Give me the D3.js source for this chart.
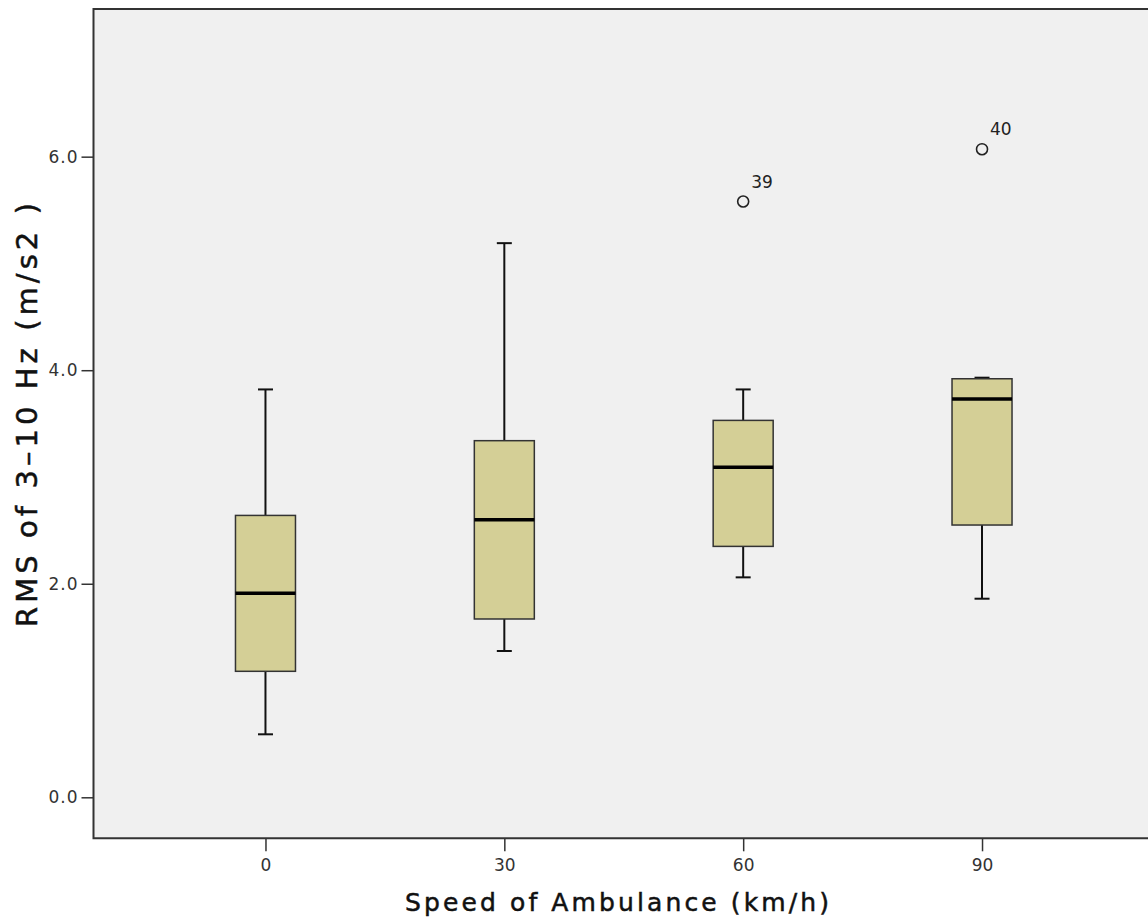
<!DOCTYPE html>
<html><head><meta charset="utf-8">
<script src="https://cdn.jsdelivr.net/npm/d3@7"></script>
<style>body{margin:0;background:#fff;}svg{display:block;}</style>
</head><body>
<svg id="c" width="1148" height="923"></svg>
<script>
const categories = ["0","30","60","90"];
const whiskerLow = [0.59, 1.37, 2.06, 1.86];
const q1 = [1.18, 1.67, 2.35, 2.55];
const median = [1.91, 2.60, 3.09, 3.73];
const q3 = [2.64, 3.34, 3.53, 3.92];
const whiskerHigh = [3.82, 5.19, 3.82, 3.93];
const outlierCat = ["60","90"];
const outlierVal = [5.58, 6.07];
const outlierLabel = ["39","40"];
const yTicks = [0, 2, 4, 6];

const svg = d3.select("#c");
const L = 93.5, T = 9, B = 838.3, R = 1154;
const x = d3.scalePoint().domain(categories).range([L, R]).padding(0.72);
const y = d3.scaleLinear().domain([-0.384, 7.383]).range([B, T]);

svg.append("rect").attr("x", L).attr("y", T).attr("width", R - L).attr("height", B - T).attr("fill", "#f0f0f0");

const boxW = 60, capW = 15;
const g = svg.append("g");
categories.forEach((c, i) => {
  const cx = x(c);
  g.append("line").attr("x1", cx).attr("x2", cx).attr("y1", y(whiskerHigh[i])).attr("y2", y(q3[i])).attr("stroke", "#111").attr("stroke-width", 2);
  g.append("line").attr("x1", cx).attr("x2", cx).attr("y1", y(q1[i])).attr("y2", y(whiskerLow[i])).attr("stroke", "#111").attr("stroke-width", 2);
  g.append("line").attr("x1", cx - capW/2).attr("x2", cx + capW/2).attr("y1", y(whiskerHigh[i])).attr("y2", y(whiskerHigh[i])).attr("stroke", "#111").attr("stroke-width", 2);
  g.append("line").attr("x1", cx - capW/2).attr("x2", cx + capW/2).attr("y1", y(whiskerLow[i])).attr("y2", y(whiskerLow[i])).attr("stroke", "#111").attr("stroke-width", 2);
  g.append("rect").attr("x", cx - boxW/2).attr("y", y(q3[i])).attr("width", boxW).attr("height", y(q1[i]) - y(q3[i]))
    .attr("fill", "#d4cf96").attr("stroke", "#333").attr("stroke-width", 1.5);
  g.append("line").attr("x1", cx - boxW/2).attr("x2", cx + boxW/2).attr("y1", y(median[i])).attr("y2", y(median[i])).attr("stroke", "#000").attr("stroke-width", 3.5);
});

const fam = "DejaVu Sans, sans-serif";
outlierCat.forEach((c, i) => {
  const cx = x(c), cy = y(outlierVal[i]);
  svg.append("circle").attr("cx", cx).attr("cy", cy).attr("r", 5.5).attr("fill", "none").attr("stroke", "#222").attr("stroke-width", 1.6);
  svg.append("text").attr("x", cx + 8).attr("y", cy - 14).style("font-family", fam).style("font-size", "17px").attr("fill", "#222").text(outlierLabel[i]);
});

// axes
const yAxis = d3.axisLeft(y).tickValues(yTicks).tickFormat(d3.format(".1f")).tickSize(12).tickPadding(3);
const ya = svg.append("g").attr("transform", `translate(${L},0)`).call(yAxis);
ya.select(".domain").remove();
ya.selectAll(".tick line").attr("stroke", "#333").attr("stroke-width", 1.5);
ya.selectAll(".tick text").style("font-family", fam).style("font-size", "17px").attr("letter-spacing", 1).attr("fill", "#333");

const xAxis = d3.axisBottom(x).tickSize(13).tickPadding(8);
const xa = svg.append("g").attr("transform", `translate(0,${B})`).call(xAxis);
xa.select(".domain").remove();
xa.selectAll(".tick line").attr("stroke", "#333").attr("stroke-width", 1.5);
xa.selectAll(".tick text").style("font-family", fam).style("font-size", "17px").attr("fill", "#333");

// frame
svg.append("path").attr("d", `M${R},${T}H${L}V${B}H${R}`).attr("fill", "none").attr("stroke", "#333").attr("stroke-width", 2);

svg.append("text").attr("x", 617).attr("y", 911).attr("text-anchor", "middle")
  .style("font-family", fam).style("font-size", "25px").attr("textLength", 424).attr("lengthAdjust", "spacing").attr("fill", "#111")
  .attr("stroke", "#111").attr("stroke-width", 0.5)
  .text("Speed of Ambulance (km/h)");
svg.append("text").attr("transform", "translate(37,415) rotate(-90)").attr("text-anchor", "middle")
  .style("font-family", fam).style("font-size", "29px").attr("textLength", 424).attr("lengthAdjust", "spacing").attr("fill", "#111")
  .attr("stroke", "#111").attr("stroke-width", 0.5)
  .text("RMS of 3–10 Hz (m/s2 )");
</script>
</body></html>
